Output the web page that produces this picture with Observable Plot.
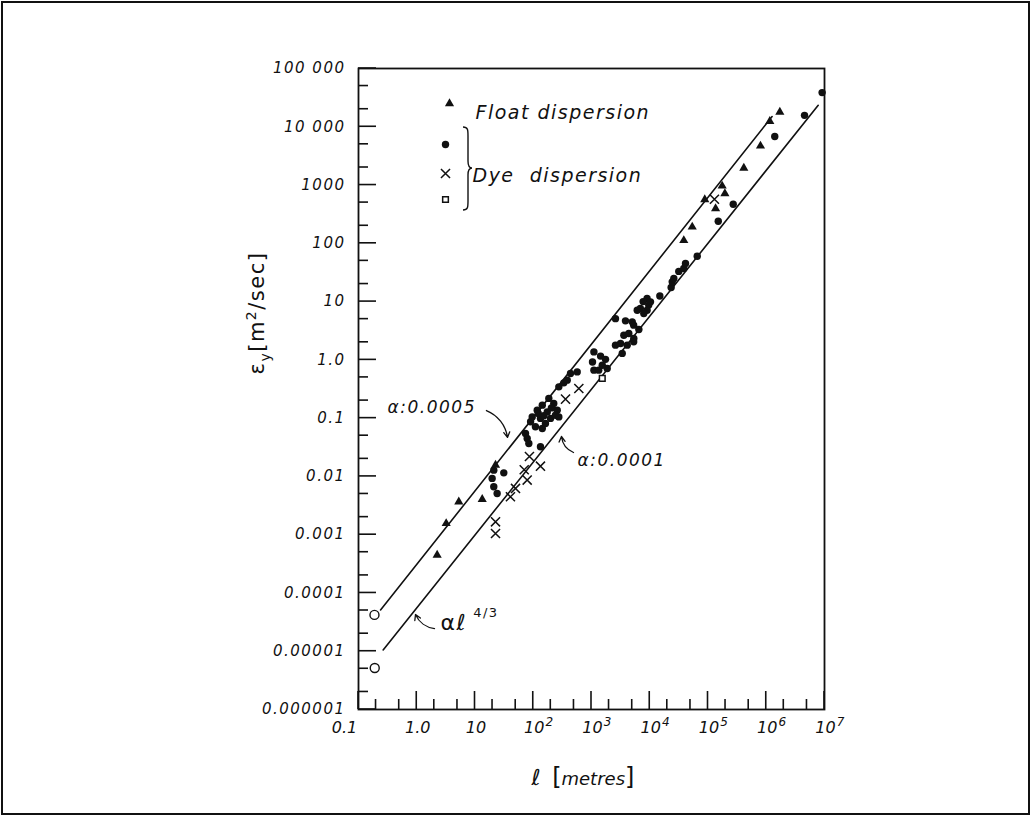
<!DOCTYPE html>
<html><head><meta charset="utf-8">
<script src="https://cdn.jsdelivr.net/npm/d3@7"></script>
<script src="https://cdn.jsdelivr.net/npm/@observablehq/plot@0.6"></script>
<style>
html,body{margin:0;padding:0;background:#fff;}
#wrap{position:relative;width:1031px;height:816px;overflow:hidden;background:#fff;}
#border{position:absolute;left:1px;top:1px;width:1025px;height:810px;border:2px solid #111;}
#chart{position:absolute;left:0;top:0;}
#chart text{letter-spacing:1.5px;}
.ytitle{position:absolute;left:258px;top:313px;transform:translate(-50%,-50%) rotate(-90deg);font:21px "DejaVu Sans";letter-spacing:1.5px;white-space:nowrap;color:#111;}
.ytitle sub,.ytitle sup{font-size:14px;}
.xtitle{position:absolute;left:583px;top:777px;transform:translate(-50%,-50%);font:italic 18px "DejaVu Sans";white-space:nowrap;color:#111;}
.xtitle .l{font-size:22px;font-style:normal;}
.xtitle .b{font-size:24px;font-style:normal;}
</style></head><body>
<div id="wrap"><div id="border"></div><div id="chart"></div>
<div class="ytitle">ε<sub>y</sub>[m<sup>2</sup>/sec]</div>
<div class="xtitle"><span class="l">ℓ</span>&nbsp;&nbsp;<span class="b">[</span>metres<span class="b">]</span></div>
</div>
<script>
// ---- axis ticks ----
const xTicks = [0.1, 1, 10, 100, 1e3, 1e4, 1e5, 1e6, 1e7];
const xTickBase = ["0.1", "1.0", "10", "10", "10", "10", "10", "10", "10"];
const xTickExp = ["", "", "", "2", "3", "4", "5", "6", "7"];
const yTicks = [1e-6, 1e-5, 1e-4, 1e-3, 1e-2, 1e-1, 1, 10, 100, 1e3, 1e4, 1e5];
const yTickLabels = ["0.000001", "0.00001", "0.0001", "0.001", "0.01", "0.1", "1.0", "10", "100", "1000", "10 000", "100 000"];

// ---- float dispersion (triangles) ----
const floatL = [2.24, 3.2, 5.27, 13.3, 22.5, 3.84e4, 5.36e4, 8.8e4, 1.35e5, 1.75e5, 1.95e5, 4.12e5, 7.96e5, 1.15e6, 1.71e6];
const floatE = [0.000447, 0.00156, 0.00367, 0.00403, 0.0156, 112, 191, 564, 395, 966, 715, 1960, 4690, 12400, 17900];

// ---- dye dispersion (filled circles) ----
const dyeL = [21, 31.2, 19.7, 21, 24,
  73.6, 78.7, 84, 133,
  185, 225, 143, 258, 174, 117, 96, 133, 198, 241, 109, 143, 90, 162, 275, 205, 152, 122,
  275, 335, 383, 436, 568,
  1100, 1430, 1740, 1100, 1330, 1860, 1530, 1040,
  2580, 3830, 5000, 5300, 6500,
  3590, 4370, 5320, 3150, 2580, 4100, 5300, 3370,
  9000, 7700, 9600, 6900, 9000, 7900, 6100, 10300,
  14900, 23300, 24300, 25900, 31500, 38400, 41100, 65300,
  1.5e5, 2.71e5, 1.4e6, 4.54e6, 9.1e6];
const dyeE = [0.0128, 0.0115, 0.00925, 0.00664, 0.0051,
  0.0547, 0.0449, 0.0368, 0.0322,
  0.218, 0.179, 0.167, 0.137, 0.128, 0.137, 0.105, 0.099, 0.099, 0.112, 0.071, 0.0665, 0.0865, 0.081, 0.105, 0.15, 0.11, 0.12,
  0.344, 0.403, 0.449, 0.585, 0.622,
  1.37, 1.16, 1.02, 0.666, 0.666, 0.711, 0.81, 0.92,
  5.1, 4.67, 4.49, 3.94, 3.32,
  2.65, 2.84, 2.33, 1.91, 1.79, 1.79, 2.04, 1.29,
  11.3, 10, 8.7, 7.6, 7.1, 6.25, 7.1, 9.9,
  12.5, 17.5, 21.8, 24.9, 33, 37, 45, 60,
  239, 469, 6800, 15700, 38600];

// ---- dye dispersion (crosses) ----
const crossL = [22.5, 22.5, 40.6, 49.6, 78.7, 70, 86, 133, 358, 606, 1.29e5];
const crossE = [0.00166, 0.00105, 0.00447, 0.00622, 0.00865, 0.013, 0.022, 0.015, 0.212, 0.323, 570];

// ---- dye dispersion (open squares) ----
const squareL = [1530];
const squareE = [0.48];

// ---- alpha * l^(4/3) lines ----
const lineHighL = [0.239, 1.26e6];   // alpha = 0.0005
const lineHighE = [5.1e-5, 1.5e4];
const lineLowL = [0.265, 7.8e6];     // alpha = 0.0001
const lineLowE = [1.05e-5, 2.34e4];
const openL = [0.188, 0.19];
const openE = [4.2e-5, 5.15e-6];

// ---- annotations ----
const legendLabels = ["Float dispersion", "Dye\u00a0\u00a0dispersion"];
const annText = ["α:0.0005", "α:0.0001", "αℓ", "4/3"];
const annL = [0.315, 575, 2.56, 9.3];
const annE = [0.152, 0.0188, 3.0e-5, 4.6e-5];
const leaderL1 = [15.7, 491, 2.02];
const leaderE1 = [0.135, 0.0257, 2.45e-5];
const leaderL2 = [36.1, 305, 0.952];
const leaderE2 = [0.0466, 0.0484, 4.27e-5];

const rows = (L, E) => L.map((l, i) => ({l, e: E[i]}));
const xBase = new Map(xTicks.map((v, i) => [v, xTickBase[i]]));
const xExp = new Map(xTicks.map((v, i) => [v, xTickExp[i]]));
const yLab = new Map(yTicks.map((v, i) => [v, yTickLabels[i]]));
const xMinor = xTicks.slice(0, -1).flatMap(v => [2 * v, 5 * v]);
const yMinor = yTicks.slice(0, -1).flatMap(v => [2 * v, 5 * v]);

const W = 1031, H = 816, mL = 358, mR = 207, mT = 68, mB = 107;
const MAJ = 18, MIN = 10, INK = "#111";
const axisFont = {fontStyle: "italic", fontSize: 16, label: null, tickSize: 0};

const chart = Plot.plot({
  width: W, height: H,
  marginLeft: mL, marginRight: mR, marginTop: mT, marginBottom: mB,
  style: {fontFamily: "DejaVu Sans", fontSize: "15px", background: "transparent", color: INK},
  x: {type: "log", domain: [0.1, 1e7]},
  y: {type: "log", domain: [1e-6, 1e5]},
  marks: [
    Plot.axisX({anchor: "bottom", ticks: xTicks.slice(1), tickFormat: d => xBase.get(d), tickPadding: 12, dx: 1, ...axisFont}),
    Plot.axisX({anchor: "bottom", ticks: xTicks.slice(3), tickFormat: d => xExp.get(d), tickPadding: 8, dx: 16, fontSize: 12, fontStyle: "italic", label: null, tickSize: 0}),
    Plot.axisX({anchor: "bottom", ticks: xTicks.slice(0, 1), tickFormat: d => xBase.get(d), tickPadding: 12, dx: -14, ...axisFont}),
    Plot.axisY({anchor: "left", ticks: yTicks, tickFormat: d => yLab.get(d), tickPadding: 13, ...axisFont, fontSize: 15}),
    Plot.frame({stroke: INK, strokeWidth: 1.8}),
    Plot.line(rows(lineHighL, lineHighE), {x: "l", y: "e", stroke: INK, strokeWidth: 1.6}),
    Plot.line(rows(lineLowL, lineLowE), {x: "l", y: "e", stroke: INK, strokeWidth: 1.6}),
    Plot.dot(rows(openL, openE), {x: "l", y: "e", r: 4.5, stroke: INK, fill: "white", strokeWidth: 1.4}),
    Plot.dot(rows(dyeL, dyeE), {x: "l", y: "e", r: 3.7, fill: INK, stroke: null}),
    Plot.dot(rows(floatL, floatE), {x: "l", y: "e", symbol: "triangle", r: 3.4, fill: INK, stroke: null}),
    Plot.dot(rows(crossL, crossE), {x: "l", y: "e", symbol: "times", r: 4.2, stroke: INK, strokeWidth: 1.5}),
    Plot.dot(rows(squareL, squareE), {x: "l", y: "e", symbol: "square", r: 3.2, stroke: INK, fill: "white", strokeWidth: 1.5}),
    // annotations
    Plot.text(rows(annL.slice(0, 2), annE.slice(0, 2)).map((d, i) => ({...d, t: annText[i]})), {x: "l", y: "e", text: "t", textAnchor: "start", fontSize: 17, fontStyle: "italic", fill: INK}),
    Plot.text(rows(annL.slice(2, 3), annE.slice(2, 3)).map((d, i) => ({...d, t: annText[2 + i]})), {x: "l", y: "e", text: "t", textAnchor: "start", fontSize: 22, fill: INK}),
    Plot.text(rows(annL.slice(3, 4), annE.slice(3, 4)).map((d, i) => ({...d, t: annText[3 + i]})), {x: "l", y: "e", text: "t", textAnchor: "start", fontSize: 13, fill: INK}),
    Plot.arrow(leaderL1.map((l, i) => ({l1: l, e1: leaderE1[i], l2: leaderL2[i], e2: leaderE2[i]})), {x1: "l1", y1: "e1", x2: "l2", y2: "e2", bend: 30, headLength: 7, stroke: INK, strokeWidth: 1.3}),
    // legend
    Plot.dot([0], {frameAnchor: "top-left", dx: 91, dy: 35, symbol: "triangle", r: 3.4, fill: INK}),
    Plot.dot([0], {frameAnchor: "top-left", dx: 87, dy: 76, r: 3.7, fill: INK}),
    Plot.dot([0], {frameAnchor: "top-left", dx: 87, dy: 105, symbol: "times", r: 4.2, stroke: INK, strokeWidth: 1.5}),
    Plot.dot([0], {frameAnchor: "top-left", dx: 87, dy: 131, symbol: "square", r: 3.2, stroke: INK, fill: "white", strokeWidth: 1.5}),
    Plot.text([legendLabels[0]], {frameAnchor: "top-left", dx: 117, dy: 37, text: d => d, textAnchor: "start", fontSize: 19, fontStyle: "italic", fill: INK}),
    Plot.text([legendLabels[1]], {frameAnchor: "top-left", dx: 114, dy: 100, text: d => d, textAnchor: "start", fontSize: 19, fontStyle: "italic", fill: INK})
  ]
});

// tighter spacing for the bottom tick labels
d3.select(chart).selectAll('[aria-label="x-axis tick label"] text').style("letter-spacing", "0px");

// inward ticks on the left and bottom axes, positioned through the plot's own scales
const sx = chart.scale("x"), sy = chart.scale("y");
const X = d3.scaleLog(sx.domain, sx.range), Y = d3.scaleLog(sy.domain, sy.range);
const x0 = sx.range[0], y0 = sy.range[0];
const g = d3.select(chart).append("g").attr("stroke", INK).attr("stroke-width", 1.6);
for (const [vals, len] of [[xTicks, MAJ], [xMinor, MIN]])
  g.selectAll(null).data(vals).join("line")
    .attr("x1", d => X(d)).attr("x2", d => X(d)).attr("y1", y0).attr("y2", y0 - len);
for (const [vals, len] of [[yTicks, MAJ], [yMinor, MIN]])
  g.selectAll(null).data(vals).join("line")
    .attr("y1", d => Y(d)).attr("y2", d => Y(d)).attr("x1", x0).attr("x2", x0 + len);

// legend brace grouping the three dye symbols
const bx = mL + 105, bt = mT + 59, bb = mT + 142, bm = mT + 100;
d3.select(chart).append("path")
  .attr("d", `M${bx},${bt} C${bx+5},${bt} ${bx+5},${bt+3} ${bx+5},${bt+9} L${bx+5},${bm-7} C${bx+5},${bm-2} ${bx+6},${bm} ${bx+9},${bm} C${bx+6},${bm} ${bx+5},${bm+2} ${bx+5},${bm+7} L${bx+5},${bb-9} C${bx+5},${bb-3} ${bx+5},${bb} ${bx},${bb}`)
  .attr("fill", "none").attr("stroke", INK).attr("stroke-width", 1.4);

document.getElementById("chart").appendChild(chart);
</script>
</body></html>
